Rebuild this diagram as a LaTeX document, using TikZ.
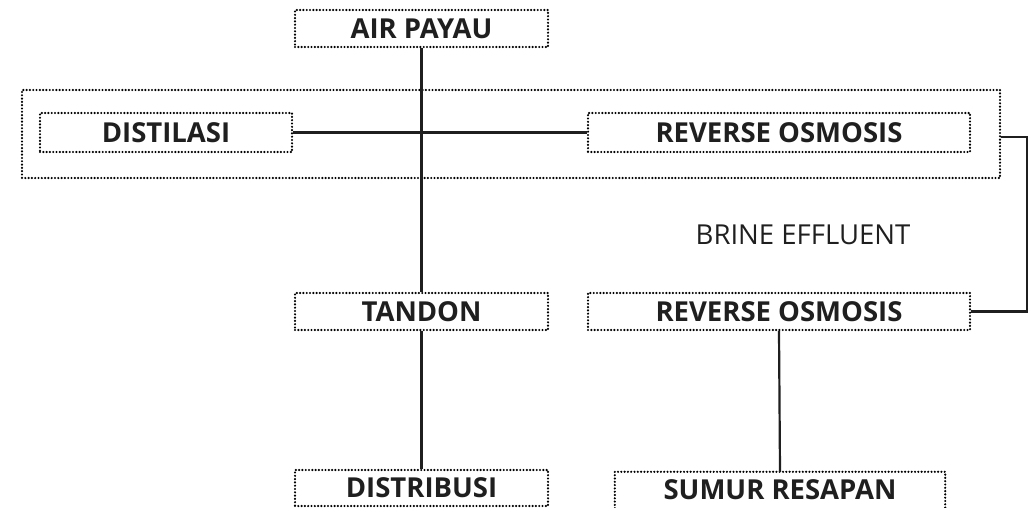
\documentclass[tikz,border=0pt]{standalone}
\usepackage{fontspec}
\setmainfont{Open Sans}
\begin{document}
\begin{tikzpicture}[x=1pt,y=-1pt,
  dotbox/.style={draw=black, line width=2.4pt, dash pattern=on 0pt off 3.3pt, line cap=round},
  box/.style={dotbox, rectangle, inner sep=0pt, font=\bfseries\fontsize{27.5}{30}\selectfont, text=black!88},
  conn/.style={draw=black!88, line width=2.2pt}]
\useasboundingbox (0,0) rectangle (1035,508);
\node[box, minimum width=253pt, minimum height=37pt] (air) at (421.5,28.5) {AIR PAYAU};
\node[dotbox, rectangle, inner sep=0pt, minimum width=978pt, minimum height=88pt] (outer) at (511,134) {};
\node[box, minimum width=252pt, minimum height=39pt] (dist) at (166,132.5) {DISTILASI};
\node[box, minimum width=382pt, minimum height=39pt] (ro1) at (779,132.5) {REVERSE OSMOSIS};
\node[box, minimum width=253pt, minimum height=37pt] (tandon) at (421.5,311.5) {TANDON};
\node[box, minimum width=382pt, minimum height=37pt] (ro2) at (779,311.5) {REVERSE OSMOSIS};
\node[box, minimum width=253pt, minimum height=36pt] (distr) at (421.5,488) {DISTRIBUSI};
\node[rectangle, inner sep=0pt, minimum width=330pt, minimum height=36pt, font=\bfseries\fontsize{27.5}{30}\selectfont, text=black!88] (sumur) at (780,490) {SUMUR RESAPAN};
\draw[dotbox] (sumur.south west) -- (sumur.north west) -- (sumur.north east) -- (sumur.south east);
\node[font=\fontsize{27.5}{30}\selectfont, text=black!88] (brine) at (803,235) {BRINE EFFLUENT};
\coordinate (turn) at (1027,137);
\draw[conn] (dist.east) -- (ro1.west);
\draw[conn] (air.south) -- (tandon.north);
\draw[conn] (tandon.south) -- (distr.north);
\draw[conn] (ro2.south) -- (sumur.north);
\draw[conn] (outer.east |- turn) -- (turn) |- (ro2.east);
\end{tikzpicture}
\end{document}
